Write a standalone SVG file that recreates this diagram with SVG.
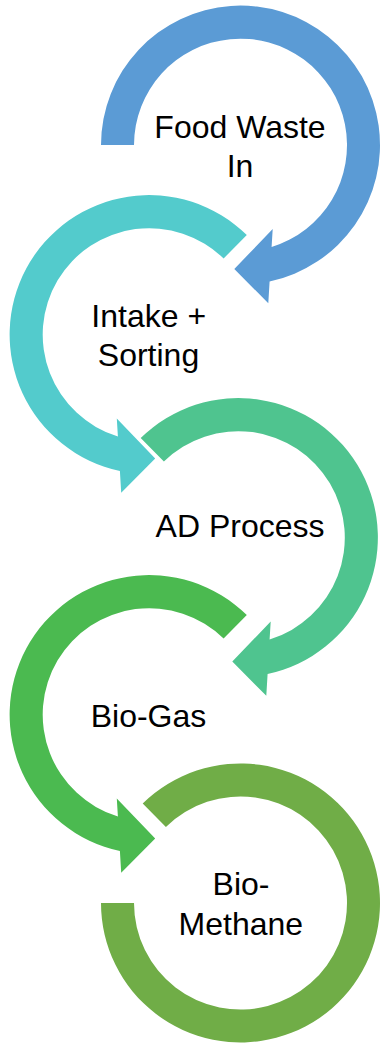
<svg xmlns="http://www.w3.org/2000/svg" width="382" height="1048" viewBox="0 0 382 1048">
  <style>
    .lbl { font-family: "Liberation Sans", "Open Sans", sans-serif; font-size: 32px; fill: #000000; text-anchor: middle; }
  </style>
  <rect width="382" height="1048" fill="#ffffff"/>
  <g id="node-food-waste">
    <path fill="#5B9BD5" d="M 101,145 A 139.5 139.5 0 1 1 269.6,281.5 L 268.3,303.3 L 234.3,269 L 272.7,229 L 271.6,247 A 106.5 106.5 0 1 0 134,145 Z"/>
    <text class="lbl" x="240" y="138">Food Waste</text>
    <text class="lbl" x="240" y="176.7">In</text>
  </g>
  <g id="node-intake">
    <path fill="#53CBCC" d="M 246.8,235 A 139.5 139.5 0 1 0 119.9,471 L 121.2,492.8 L 155.2,458.5 L 116.8,418.5 L 117.9,436.5 A 106.5 106.5 0 1 1 223.6,258.5 Z"/>
    <text class="lbl" x="148.7" y="327.3">Intake +</text>
    <text class="lbl" x="148.5" y="365.5">Sorting</text>
  </g>
  <g id="node-ad">
    <path fill="#4FC48F" d="M 140.7,438 A 139.5 139.5 0 1 1 267.6,674 L 266.3,695.8 L 232.3,661.5 L 270.7,621.5 L 269.6,639.5 A 106.5 106.5 0 1 0 163.9,461.5 Z"/>
    <text class="lbl" x="240" y="537.3">AD Process</text>
  </g>
  <g id="node-biogas">
    <path fill="#4BBA50" d="M 246.8,615 A 139.5 139.5 0 1 0 119.9,851 L 121.2,872.8 L 155.2,838.5 L 116.8,798.5 L 117.9,816.5 A 106.5 106.5 0 1 1 223.6,638.5 Z"/>
    <text class="lbl" x="148.5" y="726.7">Bio-Gas</text>
  </g>
  <g id="node-biomethane">
    <path fill="#70AD47" d="M 142.7,803.5 A 139.5 139.5 0 1 1 101,903 L 134,903 A 106.5 106.5 0 1 0 165.9,827 Z"/>
    <text class="lbl" x="241" y="895">Bio-</text>
    <text class="lbl" x="240.8" y="935">Methane</text>
  </g>
  <g id="connectors"></g>
</svg>
